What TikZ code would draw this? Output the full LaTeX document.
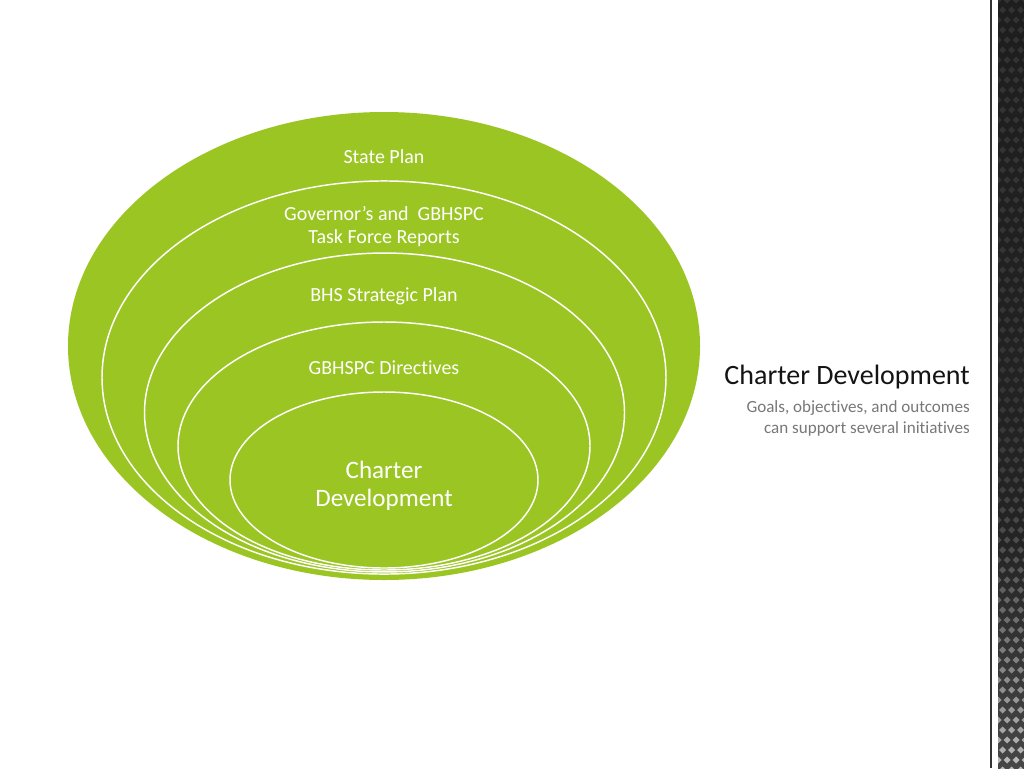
\documentclass[tikz,border=0pt]{standalone}
\usepackage{fontspec}
\setmainfont{Carlito}[Ligatures=NoCommon]
\definecolor{leaf}{RGB}{155,197,35}
\definecolor{subgray}{RGB}{120,120,120}
\definecolor{titleink}{RGB}{20,20,20}
\pgfdeclareverticalshading{carbon}{100bp}{color(0bp)=(black!50); color(40bp)=(black!86); color(100bp)=(black!90)}
\begin{document}
\begin{tikzpicture}[x=0.75pt,y=-0.75pt,
  ring/.style={fill=leaf, draw=white, line width=1.1pt},
  lbl/.style={text=white, font=\fontsize{15}{17.25}\selectfont, align=center, inner sep=0pt},
  biglbl/.style={text=white, font=\fontsize{18.8}{21}\selectfont, align=center, inner sep=0pt},
  title/.style={text=titleink, font=\fontsize{21}{24}\selectfont, anchor=east, inner sep=0pt},
  subtitle/.style={text=subgray, font=\fontsize{12.8}{15.75}\selectfont, align=right, anchor=east, inner sep=0pt}]
\useasboundingbox (0,0) rectangle (1024,768);
\fill[white] (0,0) rectangle (1024,768);
% nested ellipses
\fill[leaf] (384,346) ellipse [x radius=237pt, y radius=175.5pt];
\filldraw[ring] (384,377.5) ellipse [x radius=211.5pt, y radius=147.4pt];
\filldraw[ring] (384.5,412.5) ellipse [x radius=180pt, y radius=119.6pt];
\filldraw[ring] (384,446) ellipse [x radius=154.5pt, y radius=93pt];
\filldraw[ring] (384,480) ellipse [x radius=115.5pt, y radius=66pt];
% labels
\node[lbl] (state) at (384,157) {State Plan};
\node[lbl] (gov) at (384,226.5) {Governor’s and~ GBHSPC\\Task Force Reports};
\node[lbl] (bhs) at (384,296) {BHS Strategic Plan};
\node[lbl] (dir) at (384,368) {GBHSPC Directives};
\node[biglbl] (charter) at (384,486) {Charter\\Development};
% right side text
\node[title] (ttl) at (970,377) {Charter Development};
\node[subtitle] (sub) at (970,418.5) {Goals, objectives, and outcomes\\can support several initiatives};
% right decorative strip
\fill[black!80] (990,0) rectangle (992,768);
\shade[shading=carbon] (998,0) rectangle (1024,768);
\begin{scope}
\clip (998,0) rectangle (1024,768);
\foreach \r in {0,...,77}{
  \pgfmathsetmacro\yy{\r*10}
  \pgfmathsetmacro\off{mod(\r,2)*4.5}
  \pgfmathsetmacro\tt{max(0,(\yy-380)/388)}
  \pgfmathsetmacro\op{0.09+0.55*\tt*\tt}
  \foreach \c in {0,...,3}{
    \pgfmathsetmacro\xx{998+\off+\c*9}
    \fill[white, opacity=\op] (\xx,\yy-3.5) -- (\xx+3.5,\yy) -- (\xx,\yy+3.5) -- (\xx-3.5,\yy) -- cycle;
  }
}
\end{scope}
\end{tikzpicture}
\end{document}
